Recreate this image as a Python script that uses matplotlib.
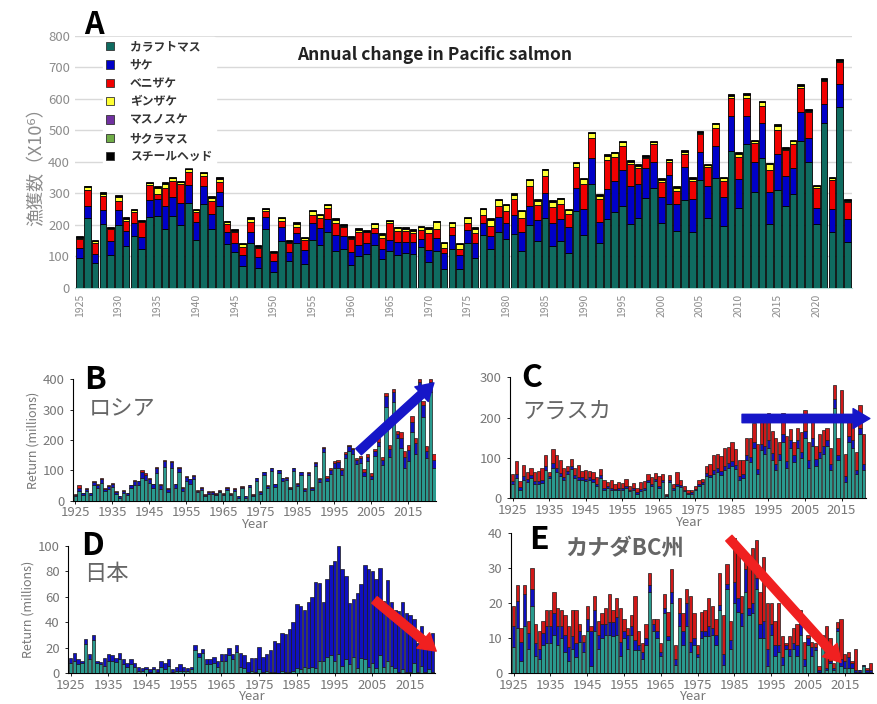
import matplotlib
matplotlib.use("Agg")
import numpy as np
import matplotlib.pyplot as plt
from matplotlib.patches import Patch

plt.rcParams['font.family'] = ['Noto Sans CJK JP', 'DejaVu Sans']

##### panel A : all Pacific salmon catch (x10^6) #####
years_a = list(range(1925, 2025))
pink_a = [94, 222, 78, 203, 105, 201, 134, 164, 124, 224,
          229, 187, 229, 201, 270, 153, 266, 187, 261, 140,
          115, 70, 142, 62, 186, 49, 149, 86, 142, 75,
          152, 136, 179, 117, 123, 73, 102, 107, 136, 91,
          117, 105, 110, 108, 131, 82, 117, 59, 123, 59,
          142, 94, 168, 124, 176, 156, 171, 118, 200, 150,
          221, 134, 150, 112, 245, 168, 330, 144, 219, 242,
          261, 202, 223, 287, 317, 205, 267, 181, 279, 177,
          343, 221, 350, 197, 435, 255, 457, 303, 414, 203,
          311, 261, 297, 465, 401, 202, 525, 177, 574, 147]
chum_a = [32, 39, 30, 44, 45, 46, 48, 42, 37, 55,
          53, 74, 59, 69, 58, 57, 56, 48, 42, 37,
          29, 35, 37, 37, 38, 37, 46, 29, 31, 46,
          55, 53, 39, 51, 42, 42, 34, 37, 37, 32,
          35, 42, 36, 37, 24, 39, 40, 51, 45, 46,
          42, 48, 39, 41, 48, 49, 59, 58, 60, 66,
          79, 73, 68, 81, 72, 83, 82, 64, 94, 99,
          114, 122, 106, 93, 82, 85, 92, 86, 104, 105,
          90, 103, 99, 91, 110, 91, 88, 98, 111, 100,
          113, 95, 83, 92, 76, 53, 58, 73, 73, 71]
sock_a = [29, 51, 34, 46, 37, 30, 32, 34, 49, 49,
          16, 55, 52, 60, 41, 30, 34, 42, 34, 26,
          32, 26, 31, 27, 20, 24, 19, 27, 22, 31,
          25, 34, 35, 39, 30, 40, 40, 32, 16, 35,
          53, 34, 34, 30, 30, 54, 31, 18, 24, 19,
          23, 33, 25, 32, 36, 39, 52, 47, 64, 47,
          56, 51, 48, 42, 66, 78, 63, 74, 93, 74,
          74, 70, 51, 32, 57, 47, 40, 42, 42, 59,
          56, 61, 60, 52, 57, 71, 57, 60, 53, 72,
          78, 82, 77, 77, 83, 61, 74, 93, 70, 56]
coho_a = [4, 8, 6, 5, 2, 13, 5, 6, 1, 4,
          19, 14, 8, 5, 8, 6, 8, 9, 9, 6,
          5, 8, 9, 5, 6, 3, 7, 5, 8, 6,
          11, 7, 9, 9, 3, 5, 8, 3, 13, 10,
          6, 9, 8, 6, 7, 13, 21, 14, 13, 15,
          14, 13, 18, 19, 18, 18, 13, 20, 18, 14,
          18, 16, 16, 11, 13, 16, 16, 11, 13, 13,
          13, 7, 8, 5, 6, 6, 6, 8, 8, 5,
          4, 4, 11, 8, 8, 8, 11, 4, 11, 18,
          12, 3, 8, 8, 2, 6, 4, 5, 4, 3]
masu_a = [1.5, 1.5, 1.5, 1.5, 1.5, 1.5, 1.5, 1.5, 1.5, 1.5,
          1.5, 1.5, 1.5, 1.5, 1.5, 1.5, 1.5, 1.5, 1.5, 1.5,
          1.5, 1.5, 1.5, 1.5, 1.5, 1.5, 1.5, 1.5, 1.5, 1.5,
          1.5, 1.5, 1.5, 1.5, 1.5, 1.5, 1.5, 1.5, 1.5, 1.5,
          1.5, 1.5, 1.5, 1.5, 1.5, 1.5, 1.5, 1.5, 1.5, 1.5,
          1.5, 1.5, 1.5, 1.5, 1.5, 1.5, 1.5, 1.5, 1.5, 1.5,
          1.5, 1.5, 1.5, 1.5, 1.5, 1.5, 1.5, 1.5, 1.5, 1.5,
          1.5, 1.5, 1.5, 1.5, 1.5, 1.5, 1.5, 1.5, 1.5, 1.5,
          1.5, 1.5, 1.5, 1.5, 1.5, 1.5, 1.5, 1.5, 1.5, 1.5,
          1.5, 1.5, 1.5, 1.5, 1.5, 1.5, 1.5, 1.5, 1.5, 1.5]
sakura_a = [0.5, 0.5, 0.5, 0.5, 0.5, 0.5, 0.5, 0.5, 0.5, 0.5,
            0.5, 0.5, 0.5, 0.5, 0.5, 0.5, 0.5, 0.5, 0.5, 0.5,
            0.5, 0.5, 0.5, 0.5, 0.5, 0.5, 0.5, 0.5, 0.5, 0.5,
            0.5, 0.5, 0.5, 0.5, 0.5, 0.5, 0.5, 0.5, 0.5, 0.5,
            0.5, 0.5, 0.5, 0.5, 0.5, 0.5, 0.5, 0.5, 0.5, 0.5,
            0.5, 0.5, 0.5, 0.5, 0.5, 0.5, 0.5, 0.5, 0.5, 0.5,
            0.5, 0.5, 0.5, 0.5, 0.5, 0.5, 0.5, 0.5, 0.5, 0.5,
            0.5, 0.5, 0.5, 0.5, 0.5, 0.5, 0.5, 0.5, 0.5, 0.5,
            0.5, 0.5, 0.5, 0.5, 0.5, 0.5, 0.5, 0.5, 0.5, 0.5,
            0.5, 0.5, 0.5, 0.5, 0.5, 0.5, 0.5, 0.5, 0.5, 0.5]
steel_a = [3, 3, 3, 3, 3, 3, 3, 3, 3, 3,
           3, 3, 3, 3, 3, 3, 3, 3, 3, 3,
           3, 3, 3, 3, 3, 3, 3, 3, 3, 3,
           3, 3, 3, 3, 3, 3, 3, 3, 3, 3,
           3, 3, 3, 3, 3, 3, 3, 3, 3, 3,
           3, 3, 3, 3, 3, 3, 3, 3, 3, 3,
           3, 3, 3, 3, 3, 3, 3, 3, 3, 3,
           3, 3, 3, 3, 3, 3, 3, 3, 3, 3,
           3, 3, 3, 3, 3, 3, 3, 3, 3, 3,
           3, 3, 3, 3, 3, 3, 3, 3, 3, 3]
species_a = ['カラフトマス', 'サケ', 'ベニザケ', 'ギンザケ', 'マスノスケ', 'サクラマス', 'スチールヘッド']
colors_a = ['#0f6b60', '#0000c8', '#f00000', '#ffff33', '#7030a0', '#70ad47', '#000000']

##### panel B : Russia (millions) #####
years_b = list(range(1925, 2023))
pink_b = [14, 30, 18, 30, 18, 50, 40, 58, 30, 38,
          45, 20, 10, 25, 18, 40, 52, 50, 75, 68,
          58, 40, 90, 38, 110, 28, 108, 40, 95, 32,
          65, 55, 70, 27, 36, 14, 22, 22, 18, 27,
          18, 36, 18, 32, 10, 40, 10, 44, 14, 66,
          22, 85, 42, 98, 46, 92, 66, 68, 38, 97,
          48, 85, 32, 83, 36, 115, 62, 162, 65, 88,
          108, 108, 85, 140, 165, 155, 120, 125, 80, 130,
          70, 148, 180, 118, 310, 145, 325, 205, 175, 108,
          130, 225, 155, 360, 275, 140, 360, 108]
chum_b = [5, 12, 6, 8, 6, 12, 12, 14, 8, 10,
          11, 8, 4, 8, 6, 10, 13, 13, 20, 18,
          14, 13, 17, 14, 22, 10, 20, 13, 14, 11,
          14, 15, 12, 6, 7, 5, 6, 6, 5, 6,
          5, 7, 5, 6, 4, 6, 4, 6, 4, 7,
          6, 8, 6, 8, 7, 8, 7, 8, 5, 9,
          8, 8, 6, 9, 7, 10, 10, 12, 11, 14,
          16, 20, 16, 15, 15, 15, 14, 16, 15, 15,
          12, 15, 15, 17, 35, 25, 32, 15, 32, 37,
          38, 35, 35, 30, 40, 25, 30, 27]
sock_b = [1, 8, 1, 2, 1, 3, 3, 3, 2, 2,
          2, 2, 1, 2, 1, 2, 3, 2, 5, 4,
          3, 2, 3, 3, 3, 2, 4, 2, 3, 2,
          3, 2, 3, 2, 2, 1, 2, 2, 2, 2,
          2, 2, 2, 2, 1, 2, 1, 2, 2, 2,
          2, 2, 2, 2, 2, 2, 2, 2, 2, 2,
          2, 2, 2, 3, 2, 3, 3, 4, 4, 6,
          6, 7, 7, 5, 5, 5, 6, 7, 10, 10,
          8, 7, 10, 10, 10, 15, 13, 10, 18, 20,
          17, 20, 15, 10, 15, 15, 10, 20]

##### panel C : Alaska (millions) #####
years_c = list(range(1925, 2022))
pink_c = [35, 50, 22, 45, 40, 50, 35, 35, 38, 70,
          50, 75, 65, 55, 45, 60, 72, 50, 45, 45,
          42, 45, 40, 30, 50, 22, 25, 22, 20, 22,
          22, 25, 18, 20, 12, 18, 22, 40, 30, 42,
          25, 40, 5, 40, 20, 30, 28, 18, 10, 12,
          20, 30, 35, 55, 52, 60, 65, 58, 70, 75,
          80, 72, 45, 50, 95, 90, 125, 60, 120, 110,
          125, 95, 70, 95, 140, 75, 125, 90, 125, 100,
          150, 75, 130, 80, 100, 110, 130, 70, 225, 95,
          190, 40, 140, 125, 60, 160, 70]
chum_c = [8, 10, 6, 10, 7, 8, 7, 7, 8, 10,
          6, 12, 10, 8, 8, 8, 8, 8, 8, 7,
          7, 7, 7, 6, 7, 5, 5, 5, 4, 5,
          5, 6, 4, 5, 4, 5, 5, 6, 6, 6,
          6, 6, 3, 5, 5, 6, 5, 4, 3, 3,
          4, 6, 5, 7, 7, 10, 10, 10, 10, 12,
          12, 10, 10, 10, 12, 12, 15, 12, 15, 20,
          20, 18, 15, 15, 20, 18, 20, 18, 20, 15,
          18, 20, 20, 18, 15, 20, 15, 15, 22, 12,
          15, 15, 15, 20, 10, 15, 15]
sock_c = [17, 32, 14, 27, 18, 17, 23, 26, 29, 28,
          9, 35, 33, 32, 22, 12, 18, 17, 29, 16,
          21, 16, 18, 16, 15, 18, 10, 18, 11, 13,
          11, 17, 10, 13, 9, 17, 15, 14, 16, 14,
          24, 14, 4, 13, 10, 29, 12, 8, 7, 7,
          6, 9, 8, 18, 26, 38, 35, 37, 45, 41,
          48, 40, 40, 35, 43, 48, 48, 63, 57, 60,
          67, 55, 65, 30, 52, 62, 27, 32, 30, 50,
          50, 45, 60, 32, 45, 40, 30, 40, 33, 43,
          63, 55, 35, 45, 45, 57, 75]

##### panel D : Japan (millions) #####
years_d = list(range(1925, 2022))
pink_d = [8, 10, 7, 8, 23, 11, 26, 8, 7, 6,
          10, 10, 9, 11, 7, 5, 7, 5, 2, 2,
          3, 1, 3, 1, 5, 3, 6, 1, 2, 2,
          2, 2, 3, 18, 13, 16, 7, 7, 8, 5,
          10, 10, 14, 11, 17, 5, 4, 1, 2, 1,
          3, 1, 2, 1, 1, 0.5, 2, 1, 1, 2,
          4, 3, 5, 4, 5, 4, 10, 10, 13, 14,
          10, 15, 6, 11, 7, 13, 4, 12, 11, 5,
          8, 4, 14, 5, 10, 6, 4, 1, 3, 1,
          1, 8, 1, 6, 1, 3, 1]
chum_d = [4, 6, 4, 2, 4, 4, 4, 2, 2, 6,
          5, 4, 3, 5, 4, 3, 4, 3, 3, 2,
          2, 2, 2, 2, 5, 5, 5, 2, 3, 5,
          3, 2, 2, 4, 3, 3, 4, 4, 5, 5,
          5, 5, 6, 4, 5, 11, 10, 8, 10, 11,
          18, 12, 13, 17, 24, 23.5, 30, 30, 34, 38,
          50, 50, 45, 52, 55, 68, 61, 46, 61, 71,
          78, 85, 76, 65, 48, 45, 59, 58, 74, 77,
          72, 70, 69, 52, 63, 50, 46, 48, 53, 46,
          45, 35, 23, 31, 22, 18, 31]

##### panel E : Canada BC (millions) #####
years_e = list(range(1925, 2023))
pink_e = [7.5, 13, 3.5, 13.5, 7, 19, 5, 4, 8, 8.5,
          8.5, 11, 8, 10, 6, 3.5, 7, 4.5, 9, 6,
          12, 2, 12, 7, 10, 11, 11, 10.5, 11, 5,
          10, 7, 11, 6.5, 6.5, 4, 8, 23, 12, 10,
          5, 17, 9.5, 20, 2.5, 13.5, 8, 13.5, 6, 8,
          4.5, 10, 10.5, 10.5, 11, 8, 18, 2.5, 24, 7,
          20, 17.5, 13.5, 23, 16.5, 17, 24, 10, 10, 2,
          11, 5, 6, 2.5, 7, 5, 7, 5, 11, 2,
          8, 5, 6.5, 0.5, 8, 1, 3, 1, 12, 2,
          1.5, 1.5, 1.5, 0.5, 0.5, 2, 0.5, 0.5]
chum_e = [6, 7.5, 5.5, 9, 4.5, 5, 3.5, 3, 3.5, 5,
          5, 6, 5.5, 3.5, 5, 4, 3.5, 4, 3, 3,
          3.5, 10, 6, 4, 4, 3, 3.5, 4, 5, 4,
          2, 4, 2.5, 3, 1.5, 2, 2, 2, 2, 2,
          1, 1.5, 1, 3, 1.5, 3.5, 4, 6.5, 3, 2,
          1, 2, 1.5, 3, 2, 3, 1.5, 3, 1.5, 2.5,
          6, 4, 3.5, 6.5, 2, 3, 3, 4, 5, 5,
          3, 3, 2, 2, 1, 2, 1.5, 3, 3, 2,
          2, 2.5, 1, 0.5, 1, 0.5, 0.5, 0.5, 1, 2,
          2, 3, 1.5, 0.5, 0.3, 0.3, 0.5, 0.3]
sock_e = [5.5, 4.5, 4, 2.5, 3.5, 6, 5.5, 5, 3.5, 4.5,
          4.5, 6, 5, 4.5, 5.5, 6, 7.5, 9.5, 2, 2,
          3.5, 1.5, 4, 4, 3, 4.5, 8, 3.5, 5.5, 9.5,
          3.5, 2, 3, 12.5, 4, 2.5, 4, 3.5, 1.5, 3.5,
          2.5, 4, 7, 6.5, 4, 4.5, 5, 4, 13, 7,
          2.5, 5.5, 6, 8, 6, 4.5, 9, 11, 5.5, 5.5,
          12.5, 13.5, 5, 4.5, 14.5, 15.5, 11, 9, 18, 13,
          6, 7, 12, 6, 0.5, 3.5, 4.5, 6, 4, 5,
          1, 1.5, 1, 1, 2, 12, 6.5, 1.5, 1.5, 11.5,
          2, 1.5, 0.5, 6, 0.2, 0.2, 0.5, 2.2]

teal_s = '#2a9a8e'
blue_s = '#1010c0'
red_s = '#d01818'
gray_txt = '#777777'
arrow_style = 'simple,head_width=1.3,head_length=1.1,tail_width=0.55'

fig = plt.figure(figsize=(8.78, 7.04), dpi=100)

# ---------------- panel A ----------------
axA = fig.add_axes([0.0854, 0.591, 0.885, 0.358])
stack_a = [pink_a, chum_a, sock_a, coho_a, masu_a, sakura_a, steel_a]
bottom = np.zeros(len(years_a))
for vals, col in zip(stack_a, colors_a):
    axA.bar(years_a, vals, bottom=bottom, width=0.86, color=col,
            edgecolor='black', linewidth=0.6, zorder=3)
    bottom += np.array(vals)
axA.set_xlim(1924.4, 2024.6)
axA.set_ylim(0, 800)
axA.set_yticks(range(0, 801, 100))
axA.set_xticks(range(1925, 2021, 5))
axA.set_xticklabels([str(y) for y in range(1925, 2021, 5)], rotation=90)
axA.tick_params(axis='both', length=0, labelcolor='#8c8c8c', labelsize=9.5)
axA.tick_params(axis='x', labelsize=7.5, pad=4)
axA.grid(axis='y', color='#d9d9d9', linewidth=1, zorder=0)
for s in ['top', 'right', 'left']:
    axA.spines[s].set_visible(False)
axA.spines['bottom'].set_color('#b8e0da')
axA.set_ylabel('漁獲数（X10⁶）', color='#8c8c8c', fontsize=13, labelpad=2)
axA.text(0.286, 0.905, 'Annual change in Pacific salmon', transform=axA.transAxes,
         fontsize=12.5, fontweight='bold', color='#222222')
handles = [Patch(facecolor=c, edgecolor='#333333', linewidth=0.6) for c in colors_a]
leg = axA.legend(handles, species_a, loc='upper left', bbox_to_anchor=(0.028, 1.02),
                 frameon=True, edgecolor='white', framealpha=1, fontsize=8.5,
                 handlelength=0.7, handleheight=0.7, handletextpad=1.3,
                 labelspacing=0.45, borderpad=0.3)
for t in leg.get_texts():
    t.set_fontweight('bold')
    t.set_color('#333333')
fig.text(0.096, 0.952, 'A', fontsize=22, fontweight='bold', color='black')


def regional(rect, years, layers, colors, ymax, ystep, ylabel=None):
    ax = fig.add_axes(rect)
    bot = np.zeros(len(years))
    for vals, col in zip(layers, colors):
        v = np.clip(np.array(vals, dtype=float), 0, None)
        ax.bar(years, v, bottom=bot, width=0.9, color=col,
               edgecolor='#1a1a1a', linewidth=0.5, zorder=3)
        bot += v
    ax.set_xlim(1924.3, years[-1] + 0.6)
    ax.set_ylim(0, ymax)
    ax.set_yticks(np.arange(0, ymax + 0.1, ystep))
    ax.set_xticks(range(1925, 2016, 10))
    for s in ['top', 'right']:
        ax.spines[s].set_visible(False)
    ax.spines['left'].set_linewidth(0.8)
    ax.spines['bottom'].set_linewidth(0.8)
    ax.tick_params(labelsize=9.5, labelcolor=gray_txt, length=2, width=0.6, pad=2)
    ax.tick_params(axis='y', pad=4)
    ax.set_xlabel('Year', color=gray_txt, fontsize=9.5, labelpad=-1)
    if ylabel:
        ax.set_ylabel(ylabel, color=gray_txt, fontsize=9, labelpad=2)
    return ax


# ---------------- panel B : Russia ----------------
axB = regional([0.083, 0.289, 0.414, 0.172], years_b, [pink_b, chum_b, sock_b],
               [teal_s, blue_s, red_s], 400, 100, 'Return (millions)')
axB.text(0.03, 0.92, 'B', transform=axB.transAxes, fontsize=23, fontweight='bold')
axB.text(0.045, 0.71, 'ロシア', transform=axB.transAxes, fontsize=16, color='#666666')
axB.annotate('', xy=(2022.5, 395), xytext=(2001, 155), annotation_clip=False,
             arrowprops=dict(arrowstyle=arrow_style, color='#1616c8', mutation_scale=11))

# ---------------- panel C : Alaska ----------------
axC = regional([0.581, 0.292, 0.405, 0.172], years_c, [pink_c, chum_c, sock_c],
               [teal_s, blue_s, red_s], 300, 100)
axC.text(0.03, 0.92, 'C', transform=axC.transAxes, fontsize=23, fontweight='bold')
axC.text(0.035, 0.66, 'アラスカ', transform=axC.transAxes, fontsize=16, color='#666666')
axC.annotate('', xy=(2023.5, 198), xytext=(1987, 198), annotation_clip=False,
             arrowprops=dict(arrowstyle=arrow_style, color='#1616c8', mutation_scale=11))

# ---------------- panel D : Japan ----------------
axD = regional([0.0774, 0.0436, 0.418, 0.181], years_d, [pink_d, chum_d],
               [teal_s, blue_s], 100, 20, 'Return (millions)')
axD.text(0.035, 0.93, 'D', transform=axD.transAxes, fontsize=23, fontweight='bold')
axD.text(0.045, 0.73, '日本', transform=axD.transAxes, fontsize=16, color='#666666')
axD.annotate('', xy=(2022.5, 16), xytext=(2005, 59), annotation_clip=False,
             arrowprops=dict(arrowstyle=arrow_style, color='#f02020', mutation_scale=11))

# ---------------- panel E : Canada BC ----------------
axE = regional([0.582, 0.0436, 0.412, 0.2], years_e, [pink_e, chum_e, sock_e],
               [teal_s, blue_s, red_s], 40, 10)
axE.text(0.05, 0.88, 'E', transform=axE.transAxes, fontsize=23, fontweight='bold')
axE.text(0.15, 0.84, 'カナダBC州', transform=axE.transAxes, fontsize=16,
         color='#666666', fontweight='bold')
axE.annotate('', xy=(2014.5, 2.5), xytext=(1983, 39), annotation_clip=False,
             arrowprops=dict(arrowstyle=arrow_style, color='#f02020', mutation_scale=11))

fig.savefig('out.png', dpi=100)
